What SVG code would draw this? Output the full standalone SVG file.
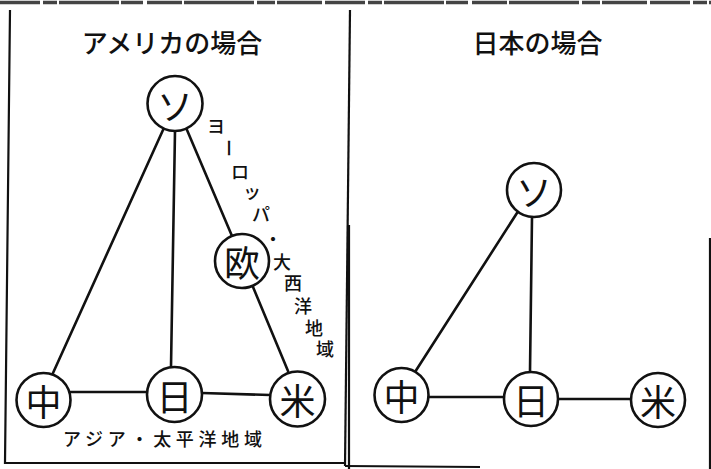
<svg xmlns="http://www.w3.org/2000/svg" width="711" height="469" viewBox="0 0 711 469">
  <style>
    .frame { fill: none; stroke: #111; stroke-width: 2.2; }
    .edge { stroke: #111; stroke-width: 2.6; stroke-linecap: round; fill: none; }
    .node circle { fill: #fff; stroke: #111; stroke-width: 2.6; }
    .node text { font-family: "Noto Sans CJK JP", sans-serif; font-size: 36px; fill: #111; text-anchor: middle; dominant-baseline: central; }
    .title { font-family: "Noto Sans CJK JP", sans-serif; font-size: 26px; font-weight: 500; fill: #111; text-anchor: middle; dominant-baseline: central; }
    .label { font-family: "Noto Sans CJK JP", sans-serif; font-size: 18px; font-weight: 500; fill: #111; text-anchor: middle; dominant-baseline: central; }
  </style>
  <rect width="711" height="469" fill="#fff"/>
  <line x1="0" y1="2.5" x2="711" y2="2.5" stroke="#444" stroke-width="3.5" stroke-dasharray="40 3 14 2 60 2 22 4 35 2 70 3 18 2 45 3"/>
  <g id="frames">
    <polyline class="frame" points="10,10 5,463 345,463"/>
    <line class="frame" x1="350" y1="10" x2="345" y2="466"/>
    <line class="frame" x1="349" y1="225" x2="349" y2="469" stroke-width="1.2"/>
    <line class="frame" x1="345" y1="466" x2="480" y2="467" stroke-width="1.2"/>
    <line class="frame" x1="710" y1="238" x2="710" y2="469"/>
  </g>
  <text class="title" x="172" y="41.5">アメリカの場合</text>
  <text class="title" x="537.5" y="41.5">日本の場合</text>
  <g id="connectors">
    <line class="edge" x1="163" y1="130" x2="53" y2="373"/>
    <line class="edge" x1="175" y1="131" x2="171" y2="367"/>
    <line class="edge" x1="187" y1="130" x2="232" y2="236"/>
    <line class="edge" x1="253" y1="287" x2="288" y2="371"/>
    <line class="edge" x1="70" y1="392" x2="147" y2="392"/>
    <line class="edge" x1="202" y1="393" x2="270" y2="395"/>
    <line class="edge" x1="517" y1="213" x2="415" y2="372"/>
    <line class="edge" x1="532" y1="217" x2="530" y2="372"/>
    <line class="edge" x1="428" y1="397" x2="504" y2="397"/>
    <line class="edge" x1="558" y1="399" x2="630" y2="399"/>
  </g>
  <g id="us-so" class="node"><circle cx="175" cy="103.5" r="27.5"/><text x="175" y="103.5">ソ</text></g>
  <g id="us-eu" class="node"><circle cx="242" cy="261" r="27"/><text x="242" y="261">欧</text></g>
  <g id="us-cn" class="node"><circle cx="43.5" cy="400" r="27"/><text x="43.5" y="400">中</text></g>
  <g id="us-jp" class="node"><circle cx="174.5" cy="394.5" r="27.5"/><text x="174.5" y="394.5">日</text></g>
  <g id="us-us" class="node"><circle cx="297.5" cy="399" r="27.5"/><text x="297.5" y="399">米</text></g>
  <g id="jp-so" class="node"><circle cx="534" cy="190" r="27"/><text x="534" y="190">ソ</text></g>
  <g id="jp-cn" class="node"><circle cx="401.5" cy="395" r="27"/><text x="401.5" y="395">中</text></g>
  <g id="jp-jp" class="node"><circle cx="531" cy="399" r="27"/><text x="531" y="399">日</text></g>
  <g id="jp-us" class="node"><circle cx="658" cy="400" r="27"/><text x="658" y="400">米</text></g>
  <g id="label-europe">
    <text class="label" x="216" y="125">ヨ</text>
    <text class="label" x="230" y="148" transform="rotate(90 230 148)">ー</text>
    <text class="label" x="240" y="171">ロ</text>
    <text class="label" x="252" y="191" font-size="15">ッ</text>
    <text class="label" x="261" y="213">パ</text>
    <text class="label" x="273" y="238">・</text>
    <text class="label" x="282" y="261">大</text>
    <text class="label" x="293" y="282">西</text>
    <text class="label" x="303" y="305">洋</text>
    <text class="label" x="314" y="327">地</text>
    <text class="label" x="325" y="348">域</text>
  </g>
  <text id="label-asia" class="label" x="162.5" y="437.5" font-size="20" textLength="199" lengthAdjust="spacing">アジア・太平洋地域</text>
</svg>
